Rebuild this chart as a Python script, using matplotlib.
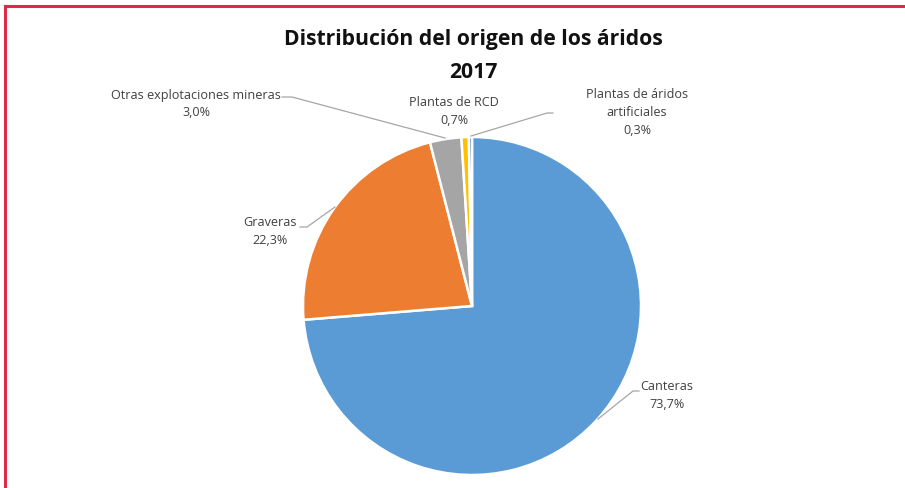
import matplotlib.pyplot as plt
from matplotlib.lines import Line2D

categories = ["Canteras", "Graveras", "Otras explotaciones mineras",
              "Plantas de RCD", "Plantas de áridos\nartificiales"]
shares = [73.7, 22.3, 3.0, 0.7, 0.3]
colors = ["#5B9BD5", "#ED7D31", "#A5A5A5", "#FFC000", "#4472C4"]

plt.rcParams['font.family'] = ['Open Sans', 'DejaVu Sans']

W, H = 905, 488
fig = plt.figure(figsize=(W / 100, H / 100), dpi=100)

# pie placement in pixels (centre and radius)
cx, cy, r = 472, 306, 169
ax = fig.add_axes([(cx - r) / W, (H - cy - r) / H, 2 * r / W, 2 * r / H])
ax.pie(shares, colors=colors, startangle=90, counterclock=False, radius=1,
       wedgeprops=dict(edgecolor="white", linewidth=1.8))
ax.set_xlim(-1, 1)
ax.set_ylim(-1, 1)
ax.set_aspect("equal")
ax.axis("off")


def px(x, y):
    # pixel position -> data coords of the pie axes
    return (x - cx) / r, (cy - y) / r


# label placement (pixels): text centre, leader line points
label_pos = [(667, 396), (270, 232), (196, 104), (454, 111), (637, 112)]
leaders = [
    [(639, 391), (633, 391), (598, 419)],
    [(300, 227), (307, 227), (335, 207)],
    [(282, 97), (292, 97), (445, 138)],
    None,
    [(553, 113), (547, 113), (471, 136)],
]

for name, val, pos, lead in zip(categories, shares, label_pos, leaders):
    tx, ty = px(*pos)
    ax.text(tx, ty, f"{name}\n{val:.1f}%".replace(".", ","),
            ha="center", va="center", fontsize=9.1, color="#404040",
            linespacing=1.5, clip_on=False)
    if lead:
        pts = [px(*p) for p in lead]
        ax.add_line(Line2D([p[0] for p in pts], [p[1] for p in pts],
                           color="#A6A6A6", lw=0.9, clip_on=False))

fig.text(473 / W, 1 - 40 / H, "Distribución del origen de los áridos",
         ha="center", va="center", fontsize=15.2, fontweight="bold", color="#111111")
fig.text(473 / W, 1 - 72 / H, "2017",
         ha="center", va="center", fontsize=15.2, fontweight="bold", color="#111111")

# red frame on top and left
fig.add_artist(Line2D([4.5 / W, 1], [1 - 5.5 / H, 1 - 5.5 / H],
                      color="#E0284A", lw=2.2, transform=fig.transFigure))
fig.add_artist(Line2D([4.5 / W, 4.5 / W], [0, 1 - 5.5 / H],
                      color="#E0284A", lw=2.2, transform=fig.transFigure))

fig.savefig("out.png", dpi=100)
